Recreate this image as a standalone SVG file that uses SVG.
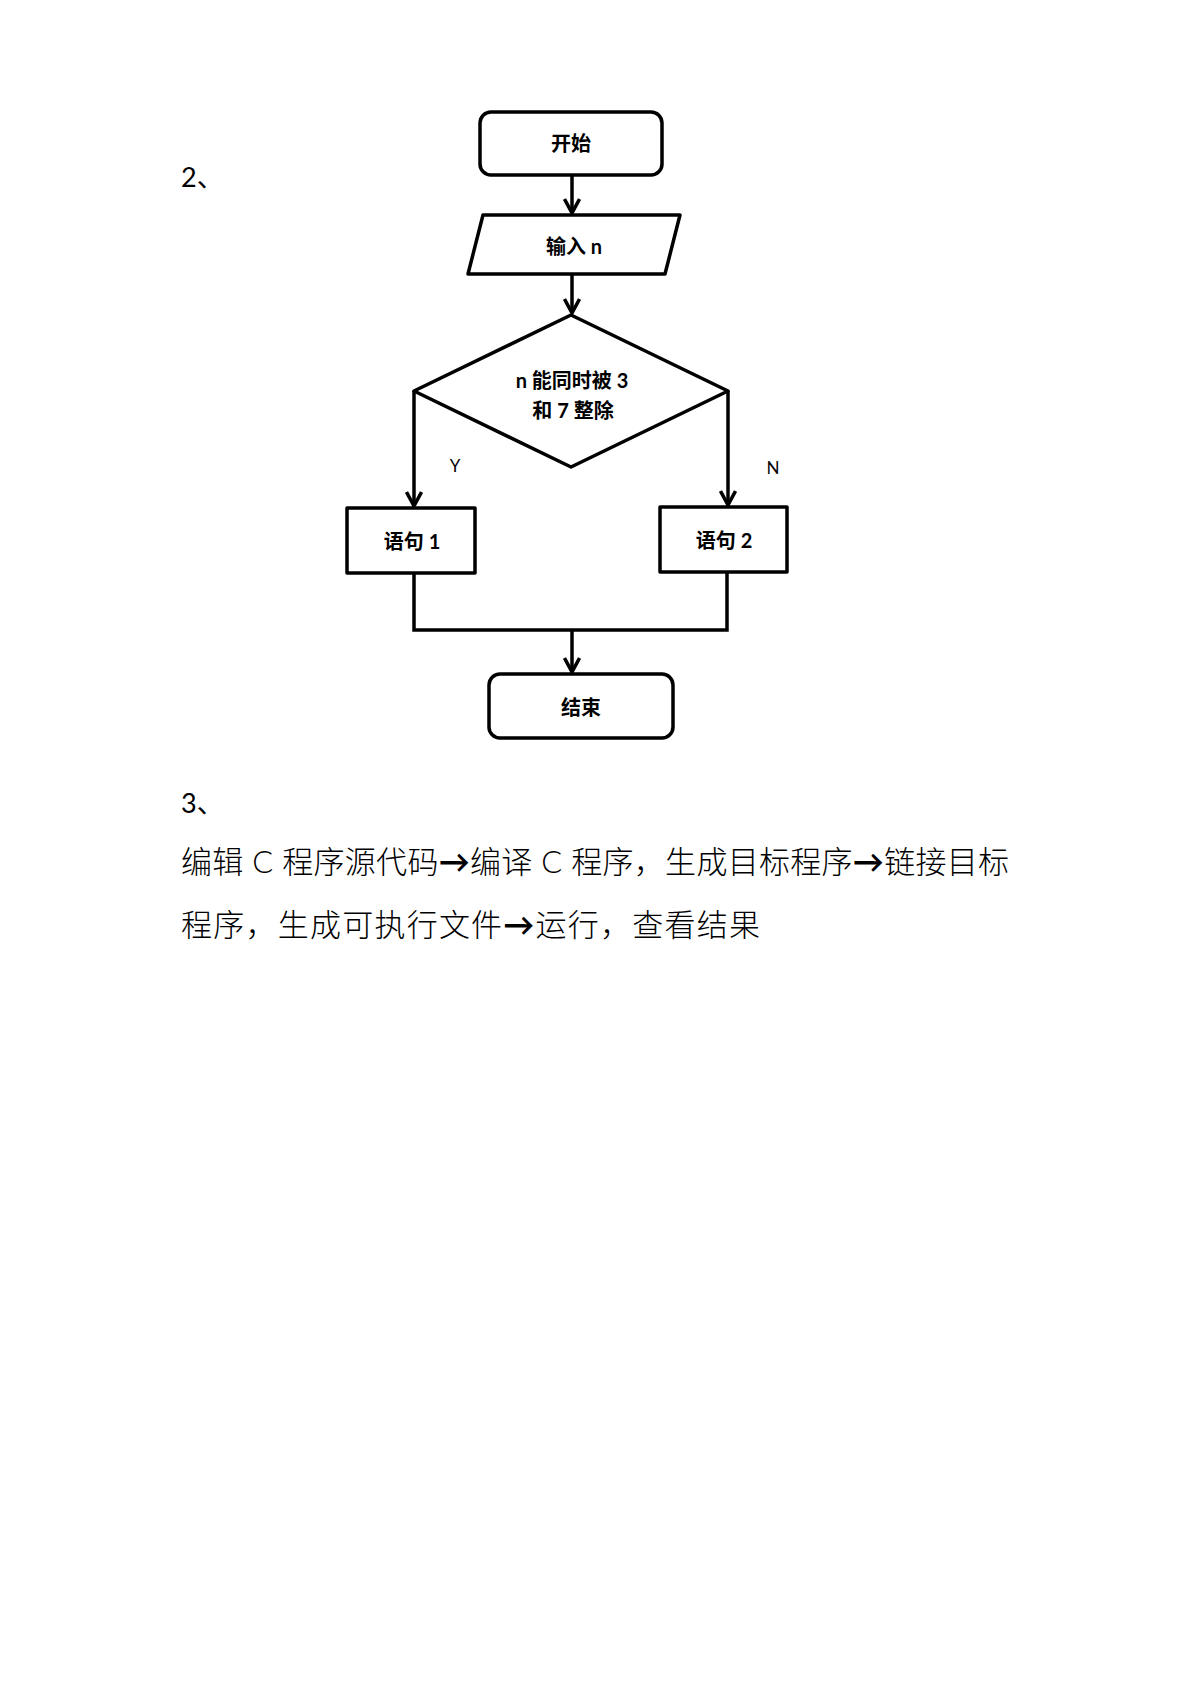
<svg xmlns="http://www.w3.org/2000/svg" width="1191" height="1684" viewBox="0 0 1191 1684">
<defs>
<style>
.shape{fill:#fff;stroke:#000;stroke-width:3.5;stroke-linejoin:round}
.conn{fill:none;stroke:#000;stroke-width:3.5;stroke-linejoin:miter}
.lbl{font-family:"Lato","Noto Sans CJK SC",sans-serif;font-weight:bold;font-size:20px;fill:#000;text-anchor:middle}
.yn{font-family:"Lato","Noto Sans CJK SC",sans-serif;font-size:17px;fill:#000;text-anchor:middle}
.body{font-family:"Lato","Noto Sans CJK SC",sans-serif;font-size:31px;font-weight:300;fill:#000}
.num{font-family:"Lato","Noto Sans CJK SC",sans-serif;font-size:27px;fill:#000}
.arr{font-weight:bold}
</style>
<marker id="ah" viewBox="0 0 18 18" refX="16" refY="9" markerWidth="18" markerHeight="18" markerUnits="userSpaceOnUse" orient="auto">
<path d="M2,1.5 L16,9 L2,16.5" fill="none" stroke="#000" stroke-width="3.5"/>
</marker>
</defs>
<rect width="1191" height="1684" fill="#fff"/>
<text class="num" x="181" y="187">2、</text>
<g id="connectors">
<path class="conn" d="M572,175 V213" marker-end="url(#ah)"/>
<path class="conn" d="M572,274 V313" marker-end="url(#ah)"/>
<path class="conn" d="M414,391 V506" marker-end="url(#ah)"/>
<path class="conn" d="M728,391 V505" marker-end="url(#ah)"/>
<path class="conn" d="M414,573 V630 H727 V572"/>
<path class="conn" d="M572,630 V672" marker-end="url(#ah)"/>
<text class="yn" x="455" y="472">Y</text>
<text class="yn" x="773" y="474">N</text>
</g>
<g id="start">
<rect class="shape" x="480" y="112" width="182" height="63" rx="11"/>
<text class="lbl" x="571" y="151">开始</text>
</g>
<g id="input">
<polygon class="shape" points="483,215 680,215 665,274 468,274"/>
<text class="lbl" x="574" y="254">输入 n</text>
</g>
<g id="decision">
<polygon class="shape" points="571,315 728,391 571,467 414,391"/>
<text class="lbl" x="572" y="388">n 能同时被 3</text>
<text class="lbl" x="573" y="418">和 7 整除</text>
</g>
<g id="stmt1">
<rect class="shape" x="347" y="508" width="128" height="65"/>
<text class="lbl" x="412" y="549">语句 1</text>
</g>
<g id="stmt2">
<rect class="shape" x="660" y="507" width="127" height="65"/>
<text class="lbl" x="724" y="548">语句 2</text>
</g>
<g id="end">
<rect class="shape" x="489" y="674" width="184" height="64" rx="11"/>
<text class="lbl" x="581" y="715">结束</text>
</g>
<text class="num" x="181" y="813">3、</text>
<text class="body" x="181" y="873" textLength="828" lengthAdjust="spacing">编辑 C 程序源代码<tspan class="arr">→</tspan>编译 C 程序，生成目标程序<tspan class="arr">→</tspan>链接目标</text>
<text class="body" x="181" y="936" textLength="579" lengthAdjust="spacing">程序，生成可执行文件<tspan class="arr">→</tspan>运行，查看结果</text>
</svg>
